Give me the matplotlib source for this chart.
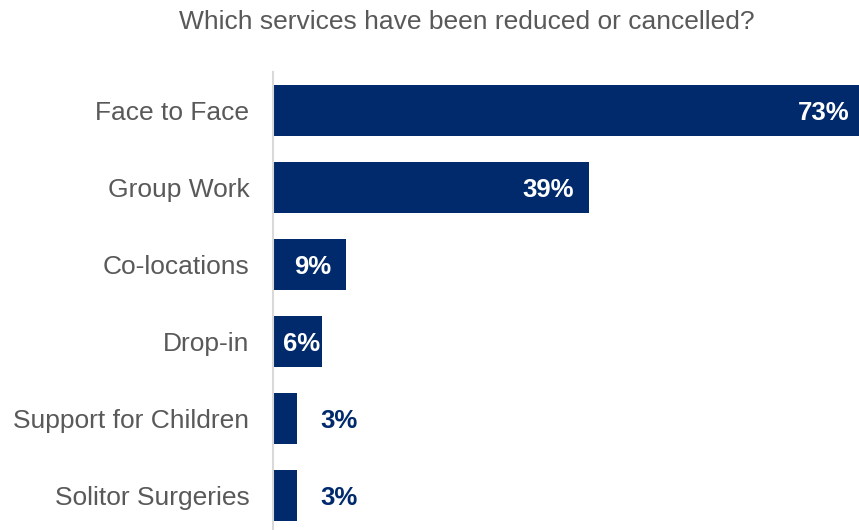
import matplotlib.pyplot as plt

plt.rcParams['font.family'] = ['Liberation Sans', 'DejaVu Sans']

services = ['Face to Face', 'Group Work', 'Co-locations', 'Drop-in',
            'Support for Children', 'Solitor Surgeries']
percent = [73, 39, 9, 6, 3, 3]

navy = '#002A6B'
grey = '#595959'

fig = plt.figure(figsize=(8.59, 5.3), dpi=100)
ax = fig.add_axes([273/859, -4/530, 1 - 273/859, 462/530])

y = list(range(len(services)))
ax.barh(y, percent, height=0.66, color=navy)
ax.set_ylim(len(services) - 0.5, -0.5)
ax.set_xlim(0, 586/8.1)

for i, v in enumerate(percent):
    if v > 8:
        ax.text(v - 1.8, i + 0.03, f'{v}%', ha='right', va='center', color='white',
                fontsize=18.5, fontweight='bold')
    elif v > 5:
        ax.text(v - 0.2, i + 0.03, f'{v}%', ha='right', va='center', color='white',
                fontsize=18.5, fontweight='bold')
    else:
        ax.text(v + 2.85, i + 0.03, f'{v}%', ha='left', va='center', color=navy,
                fontsize=18.5, fontweight='bold')

ax.set_yticks(y)
ax.set_yticklabels(services, fontsize=19, color=grey)
ax.tick_params(axis='y', length=0, pad=17)
ax.set_xticks([])
for s in ['top', 'right', 'bottom']:
    ax.spines[s].set_visible(False)
ax.spines['left'].set_color('#D9D9D9')
ax.spines['left'].set_linewidth(1.5)

fig.text(467/859, 1 - 22/530, 'Which services have been reduced or cancelled?',
         ha='center', va='center', fontsize=19, color=grey)

fig.savefig('out.png', dpi=100)
